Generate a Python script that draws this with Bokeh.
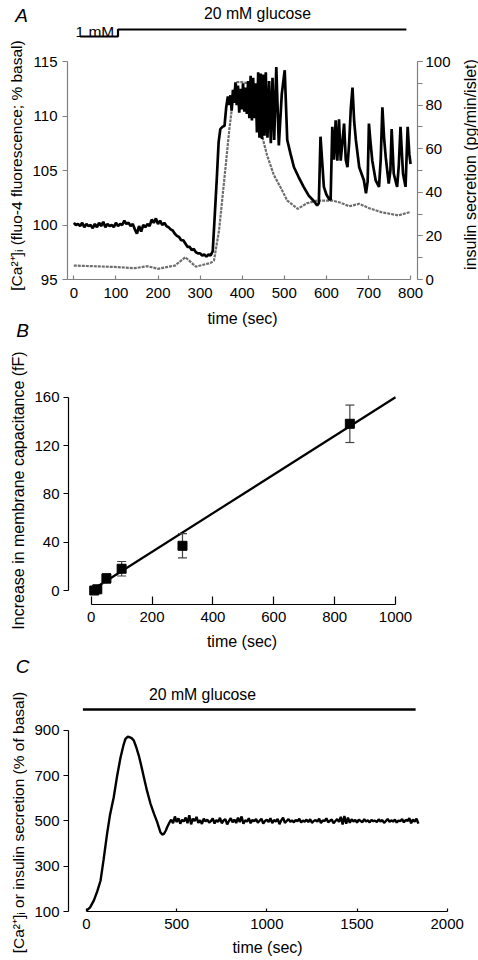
import math
from bokeh.plotting import figure
from bokeh.models import (Range1d, LinearAxis, Label, SingleIntervalTicker,
                          FixedTicker)
from bokeh.embed import file_html
from bokeh.resources import INLINE

FONT = "Liberation Sans"
FS = "15px"

# ---------------- Panel A data ----------------
ca_t = [0, 5, 10, 15, 20, 25, 30, 35, 40, 45,
        50, 55, 60, 65, 70, 75, 80, 85, 90, 95,
        100, 105, 110, 115, 120, 125, 130, 135, 140, 145,
        150, 155, 160, 165, 170, 175, 180, 185, 190, 195,
        200, 205, 210, 215, 220, 225, 230, 235, 240, 245,
        250, 255, 260, 265, 270, 275, 280, 285, 290, 295,
        300, 305, 310, 315, 320, 325, 330,
        335, 340, 344, 348, 353, 358, 362, 366, 369, 372,
        375, 378, 381, 384, 387, 390, 393, 396, 399, 402,
        405, 408, 411, 414, 417, 420, 423, 426, 429, 432,
        435, 438, 441, 444, 447, 450, 453, 456, 460, 464,
        468, 472, 476, 481, 487, 494, 501, 507, 515, 523,
        534, 546, 558, 570, 578, 582, 586, 590, 594, 600,
        606, 610, 614, 618, 622, 626, 630, 634, 642, 646,
        650, 654, 658, 662, 666, 670, 678, 689, 694, 698,
        701, 705, 709, 717, 725, 729, 733, 737, 741, 748,
        752, 755, 760, 768, 772, 776, 782, 788, 793, 797,
        800]
ca_v = [100.2, 100.0, 100.1, 99.9, 100.2, 99.8, 100.1, 99.9, 100.0, 99.7,
        100.1, 99.8, 100.2, 99.9, 100.3, 99.8, 100.1, 99.9, 100.0, 99.8,
        100.2, 99.9, 100.1, 100.0, 100.4, 100.1, 100.2, 99.9, 100.1, 99.6,
        99.2, 99.9, 99.4, 100.0, 99.8, 100.1, 99.9, 100.5, 100.2, 100.6,
        100.1, 100.4, 100.0, 100.2, 99.9, 99.8, 99.6, 99.5, 99.2, 99.0,
        98.9, 98.6, 98.6, 98.3, 98.0, 98.0, 97.7, 97.8, 97.5, 97.4,
        97.4, 97.2, 97.3, 97.1, 97.3, 97.2, 97.6,
        101.0, 104.5, 107.6, 108.8, 109.0, 109.1, 110.8, 111.8, 111.0, 111.9,
        110.5, 112.4, 111.2, 113.1, 111.0, 112.8, 110.3, 112.5, 110.6, 113.0,
        110.4, 112.6, 110.2, 113.2, 109.8, 113.7, 109.6, 113.5, 109.8, 113.0,
        108.5, 114.0, 108.0, 113.9, 107.9, 113.8, 108.2, 114.0, 108.0, 113.2,
        107.5, 113.5, 107.8, 114.5, 107.3, 112.0, 114.2, 107.8, 106.5, 105.3,
        104.4, 103.5, 102.7, 102.2, 101.8, 102.0, 108.1, 105.8, 103.5, 102.8,
        102.4, 102.3, 109.0, 106.0, 109.6, 105.9, 109.7, 105.9, 109.3, 106.0,
        105.3, 107.5, 110.7, 112.6, 109.5, 107.8, 105.3, 104.1, 102.9, 104.0,
        109.3, 107.5, 105.9, 104.1, 103.5, 106.0, 110.8, 108.0, 106.2, 103.8,
        105.0, 108.8, 104.7, 103.5, 105.5, 109.0, 104.7, 103.5, 109.0, 106.5,
        105.6]

ins_t = [0, 30, 60, 90, 120, 145, 175, 200, 240, 265,
         290, 325, 333, 345, 357, 369, 380, 388, 400, 415,
         424, 436, 448, 459, 475, 491, 507, 532, 554, 578,
         614, 634, 654, 678, 702, 730, 771, 798]
ins_v = [6.4, 6.2, 6.0, 5.8, 5.5, 5.2, 6.1, 4.9, 6.4, 10.2,
         5.9, 7.6, 8.7, 22.5, 45.0, 68.0, 86.0, 90.5, 90.5, 90.0,
         84.0, 74.5, 65.3, 57.0, 48.0, 42.3, 36.2, 32.4, 35.0, 36.2,
         36.2, 35.2, 33.6, 34.7, 32.7, 30.9, 29.4, 30.9]

glcA_t = [15, 105, 790]          # 1 mM start, switch to 20 mM, end
xticksA = list(range(0, 801, 100))

# ---------------- Panel B data ----------------
cap_t = [10, 20, 50, 100, 300, 850]
cap_v = [0, 1, 10, 18, 37, 138]
cap_err = [1, 1.5, 4, 6, 10, 15.5]
fit_t = [0, 1000]
fit_slope = 0.16

# ---------------- Panel C data ----------------
sim_t = [0, 20, 41, 60, 78, 95, 114, 130, 151, 170,
         189, 205, 216, 228, 240, 250, 262, 275, 290, 305,
         318, 335, 355, 375, 392, 410, 420, 429, 440, 447,
         458, 466] + list(range(470, 1841, 10))
sim_v = [104, 118, 149, 190, 237, 330, 443, 525, 605, 700,
         782, 835, 863, 872, 870, 866, 856, 828, 789, 740,
         693, 635, 576, 530, 495, 450, 440, 443, 458, 472,
         490, 502,
         505, 490, 520, 495, 512, 488, 505, 498, 515, 490,
         525, 485, 510, 500, 518, 492, 503, 487, 510, 498,
         506, 493, 500, 511, 489, 504, 496, 514, 490, 502,
         508, 485, 500, 512, 494, 506, 491, 515, 495, 520,
         488, 503, 497, 512, 490, 505, 499, 508, 493, 501,
         510, 489, 500, 506, 495, 512, 491, 504, 498, 509,
         486, 503, 515, 492, 500, 508, 496, 503, 494, 505,
         499, 510, 493, 502, 497, 506, 495, 508, 492, 500,
         504, 497, 510, 491, 503, 499, 512, 494, 501, 506,
         490, 500, 508, 496, 518, 485, 522, 488, 515, 492,
         507, 498, 504, 493, 506, 500, 495, 508, 497, 503,
         494, 505, 499, 502, 495, 507, 498, 504, 492, 500,
         509, 496, 503, 497, 506, 493, 502, 499, 508, 494,
         505, 500, 512, 490, 506, 497, 510, 488]
glcC_t = [-20, 1825]
yticksC = [100, 300, 500, 700, 900]

# ---------------- canvas / layout (pixels) ----------------
W, H = 478, 958

# pixel -> panel data mappings (layout only)
def tA(px): return (px - 73.3) / 0.421
def vA(py): return 95 + (279 - py) / 10.9
def tB(px): return (px - 90.7) / 0.3043
def vB(py): return (590 - py) / 1.208
def tC(px): return (px - 86.0) / 0.18035
def vC(py): return 100 + (911 - py) / 0.2263

p = figure(width=W, height=H, x_range=Range1d(0, W), y_range=Range1d(H, 0),
           output_backend="svg", toolbar_location=None,
           x_axis_location=None, y_axis_location=None, min_border=0)
p.grid.grid_line_color = None
p.outline_line_color = None
p.background_fill_color = "white"
p.border_fill_color = "white"

p.extra_x_ranges = {"xA": Range1d(tA(0), tA(W)),
                    "xB": Range1d(tB(0), tB(W)),
                    "xC": Range1d(tC(0), tC(W))}
p.extra_y_ranges = {"yA": Range1d(vA(H), vA(0)),
                    "rA": Range1d((vA(H) - 95) * 5, (vA(0) - 95) * 5),
                    "yB": Range1d(vB(H), vB(0)),
                    "yC": Range1d(vC(H), vC(0))}


def make_axis(side, xr, yr, loc, bounds, ticker, color="black",
              tick_in=0, tick_out=5, standoff=5):
    ax = LinearAxis(x_range_name=xr, y_range_name=yr, fixed_location=loc,
                    bounds=bounds, ticker=ticker)
    ax.axis_line_color = color
    ax.axis_line_width = 1.2
    ax.major_tick_line_color = color
    ax.major_tick_line_width = 1.2
    ax.major_tick_in = tick_in
    ax.major_tick_out = tick_out
    ax.minor_tick_line_color = None
    ax.major_label_text_font = FONT
    ax.major_label_text_font_size = FS
    ax.major_label_text_color = "black"
    ax.major_label_standoff = standoff
    p.add_layout(ax, side)
    return ax


def add_text(x, y, text, size=FS, angle=0.0, align="center",
             baseline="middle", style="normal"):
    p.add_layout(Label(x=x, y=y, text=text, angle=angle, text_align=align,
                       text_baseline=baseline, text_font=FONT,
                       text_font_size=size, text_font_style=style,
                       text_color="black"))


GRAY = "#808080"
TS = "16px"      # axis-title size

# ================= Panel A =================
make_axis("below", "xA", "yA", 95, (tA(67), 800), FixedTicker(ticks=xticksA),
          color=GRAY, tick_in=4, tick_out=0, standoff=8)
make_axis("left", "xA", "yA", tA(67), (95, 115),
          SingleIntervalTicker(interval=5, num_minor_ticks=0),
          color=GRAY, tick_out=5, standoff=5)
rax = make_axis("right", "xA", "rA", tA(417), (0, 100),
                SingleIntervalTicker(interval=20, num_minor_ticks=2),
                color=GRAY, tick_out=5, standoff=3)
rax.minor_tick_line_color = GRAY
rax.minor_tick_line_width = 1.2
rax.minor_tick_in = 0
rax.minor_tick_out = 5

p.line(ins_t, ins_v, x_range_name="xA", y_range_name="rA",
       line_color="#6e6e6e", line_width=2.2, line_dash="3 1")
p.line(ca_t, ca_v, x_range_name="xA", y_range_name="yA",
       line_color="black", line_width=2.7)
# glucose protocol bracket (x in seconds, y in pixel rows)
p.line([glcA_t[0], glcA_t[1], glcA_t[1], glcA_t[2]], [36, 36, 29, 29],
       x_range_name="xA", line_color="black", line_width=2.2)

add_text(21, 15, "A", size="19px", style="italic")
add_text(257, 13, "20 mM glucose", size="15.8px")
add_text(75, 31, "1 mM", align="left", size="15.5px")
add_text(16, 165, "[Ca²⁺]ᵢ (fluo-4 fluorescence; % basal)", size="15.5px",
         angle=math.pi / 2)
add_text(470, 164, "insulin secretion (pg/min/islet)", size=TS,
         angle=math.pi / 2)
add_text(242, 318, "time (sec)", size=TS)

# ================= Panel B =================
make_axis("below", "xB", "yB", vB(604), (0, 1000),
          SingleIntervalTicker(interval=200, num_minor_ticks=0),
          tick_in=8, tick_out=0, standoff=7)
make_axis("left", "xB", "yB", tB(68), (0, 160),
          SingleIntervalTicker(interval=40, num_minor_ticks=0),
          tick_out=5, standoff=4)

p.line(fit_t, [fit_slope * t for t in fit_t], x_range_name="xB",
       y_range_name="yB", line_color="black", line_width=2.2)
up = [v + e for v, e in zip(cap_v, cap_err)]
lo = [v - e for v, e in zip(cap_v, cap_err)]
p.segment(x0=cap_t, y0=lo, x1=cap_t, y1=up, x_range_name="xB",
          y_range_name="yB", line_color="#444444", line_width=1.2)
p.scatter(cap_t + cap_t, up + lo, marker="dash", size=9, x_range_name="xB",
          y_range_name="yB", line_color="#444444", line_width=1.2)
p.scatter(cap_t, cap_v, marker="square", size=9, x_range_name="xB",
          y_range_name="yB", fill_color="black", line_color="black")

add_text(22, 330, "B", size="19px", style="italic")
add_text(18, 490, "Increase in membrane capacitance (fF)", size=TS,
         angle=math.pi / 2)
add_text(241.5, 641, "time (sec)", size=TS)

# ================= Panel C =================
make_axis("below", "xC", "yC", 100, (0, 2000),
          SingleIntervalTicker(interval=500, num_minor_ticks=0),
          tick_in=3, tick_out=0, standoff=7)
make_axis("left", "xC", "yC", tC(68), (100, 900), FixedTicker(ticks=yticksC),
          tick_out=5, standoff=4)

p.line(sim_t, sim_v, x_range_name="xC", y_range_name="yC",
       line_color="black", line_width=2.4)
p.line(glcC_t, [709, 709], x_range_name="xC", line_color="black",
       line_width=2.4)

add_text(22, 666, "C", size="19px", style="italic")
add_text(202, 694, "20 mM glucose", size="15.8px")
add_text(18, 822, "[Ca²⁺]ᵢ or insulin secretion (% of basal)", size="15.5px",
         angle=math.pi / 2)
add_text(267, 947, "time (sec)", size=TS)

open("out.html", "w").write(file_html(p, INLINE))
